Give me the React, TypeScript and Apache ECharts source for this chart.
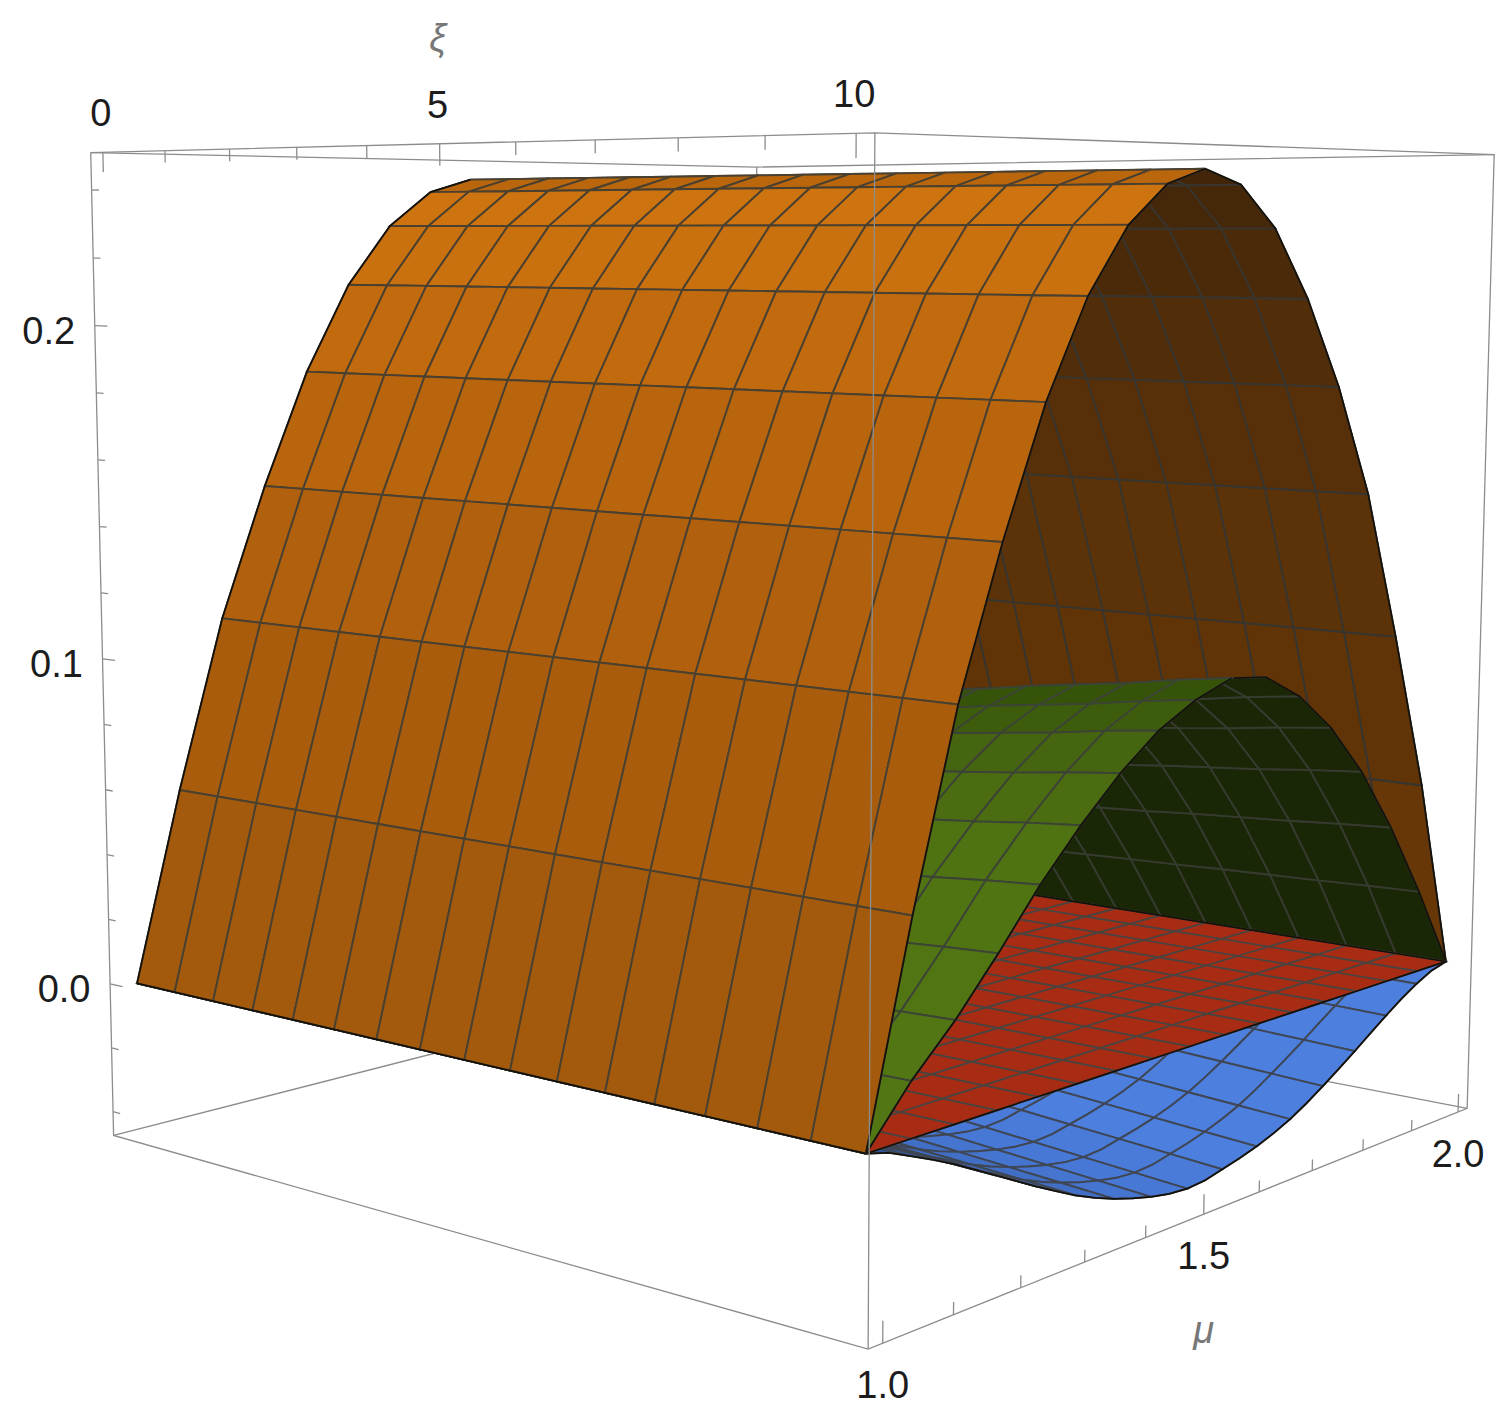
import React, { useEffect, useRef } from "react";
import * as echarts from "echarts";

const W = 1510;
const H = 1425;

// ---- data ----
const xiStations = [0, 0.625, 1.25, 1.875, 2.5, 3.125, 3.75, 4.375, 5, 5.625, 6.25, 6.875, 7.5, 8.125, 8.75, 9.375, 10];
const muStations = [1, 1.0625, 1.125, 1.1875, 1.25, 1.3125, 1.375, 1.4375, 1.5, 1.5625, 1.625, 1.6875, 1.75, 1.8125, 1.875, 1.9375, 2];
const orangeZ = [0, 0.0575, 0.109, 0.149, 0.184, 0.211, 0.2295, 0.2405, 0.2447, 0.2406, 0.2286, 0.2086, 0.1828, 0.1504, 0.1062, 0.0584, 0];
// green and blue at xi = 10; they shrink towards xi = 0 by the factors below
const greenZ = [0, 0.015, 0.0274, 0.0418, 0.0572, 0.0706, 0.0824, 0.092, 0.0985, 0.1028, 0.1012, 0.0938, 0.0825, 0.0671, 0.0477, 0.0251, 0];
const greenAlongXi = [0.66, 0.685, 0.705, 0.725, 0.745, 0.765, 0.785, 0.805, 0.825, 0.845, 0.87, 0.89, 0.915, 0.935, 0.955, 0.98, 1];
const redZ = [0, 0, 0, 0, 0, 0, 0, 0, 0, 0, 0, 0, 0, 0, 0, 0, 0];
const flatAlongXi = [1, 1, 1, 1, 1, 1, 1, 1, 1, 1, 1, 1, 1, 1, 1, 1, 1];
// blue is smooth in the picture: two values per mesh row
const blueZ = [
  0, -0.0017, -0.0045, -0.0074, -0.0105, -0.014, -0.0175, -0.021, -0.0245, -0.0278, -0.031, -0.0337, -0.036, -0.0379, -0.0395, -0.0407,
  -0.0412, -0.0408, -0.0395, -0.0382, -0.0366, -0.0346, -0.0322, -0.0292, -0.0258, -0.0222, -0.0185, -0.0146, -0.0108, -0.0072, -0.004, -0.0014, 0,
];
const blueAlongXi = [0.56, 0.58, 0.6, 0.62, 0.65, 0.68, 0.71, 0.74, 0.77, 0.8, 0.83, 0.855, 0.88, 0.91, 0.94, 0.97, 1];

const xiMajor = [0, 5, 10];
const xiMinor = [1, 2, 3, 4, 6, 7, 8, 9];
const muMajor = [1, 1.5, 2];
const muMinor = [1.1, 1.2, 1.3, 1.4, 1.6, 1.7, 1.8, 1.9];
const zMajor = [0, 0.1, 0.2];
const zMinor = [-0.04, -0.02, 0.02, 0.04, 0.06, 0.08, 0.12, 0.14, 0.16, 0.18, 0.22, 0.24];

const xiLabels = ["0", "5", "10"];
const muLabels = ["1.0", "1.5", "2.0"];
const zLabels = ["0.0", "0.1", "0.2"];

// colour bands over mu (one per cell row)
const orangeRamp = ["#a35a0c", "#a95d0c", "#b1610d", "#b9650d", "#c16a0e", "#c9700f", "#cd7410", "#b9660d"];
const brownRamp = ["#43260a", "#45270a", "#4b2a09", "#512d09", "#572f08", "#5c3208", "#613408", "#673708"];
const greenRamp = ["#537614", "#537614", "#527514", "#517413", "#4f7212", "#4b6c11", "#456510", "#3d5d0d", "#355409"];
const darkGreenRamp = ["#1a2606", "#1a2606", "#1a2606", "#1a2606", "#1a2706", "#1a2706", "#1a2706", "#1a2706"];
const blueRamp = ["#2f5599", "#3259a2", "#365fad", "#3a66b6", "#3e6cc0", "#426fc6", "#4675cf", "#4878d5",
  "#4a7bd9", "#4c7fde", "#4c7fde", "#4c7fde", "#4c7fde", "#4c7fde", "#4c7fde", "#4c7fde"];
const redFill = "#a82c14";

// ---- view: box ranges and where the box corners land on the page ----
const xiRange = [-0.2, 10.2];
const muRange = [0.98, 2.02];
const zRange = [-0.0475, 0.251];
const boxCorners: number[][] = [
  [0, 0, 0, 115, 1135], [1, 0, 0, 871, 1350], [1, 1, 0, 1468, 1107], [0, 1, 0, 752, 972],
  [0, 0, 1, 90, 152], [1, 0, 1, 871, 133], [1, 1, 1, 1494, 155], [0, 1, 1, 760, 167],
];

function solveCamera(): number[] {
  const n = 11;
  const A: number[][] = Array.from({ length: n }, () => new Array(n + 1).fill(0));
  const add = (r: number[], t: number) => {
    for (let i = 0; i < n; i++) {
      for (let j = 0; j < n; j++) A[i][j] += r[i] * r[j];
      A[i][n] += r[i] * t;
    }
  };
  boxCorners.forEach(([X, Y, Z, u, v]) => {
    add([X, Y, Z, 1, 0, 0, 0, 0, -u * X, -u * Y, -u * Z], u);
    add([0, 0, 0, 0, X, Y, Z, 1, -v * X, -v * Y, -v * Z], v);
  });
  for (let c = 0; c < n; c++) {
    let p = c;
    for (let r = c + 1; r < n; r++) if (Math.abs(A[r][c]) > Math.abs(A[p][c])) p = r;
    [A[c], A[p]] = [A[p], A[c]];
    for (let r = 0; r < n; r++) {
      if (r === c) continue;
      const f = A[r][c] / A[c][c];
      for (let k = c; k <= n; k++) A[r][k] -= f * A[c][k];
    }
  }
  return A.map((row, i) => row[n] / row[i]);
}
const cam = solveCamera();

function project(xi: number, mu: number, z: number): number[] {
  const X = (xi - xiRange[0]) / (xiRange[1] - xiRange[0]);
  const Y = (mu - muRange[0]) / (muRange[1] - muRange[0]);
  const Z = (z - zRange[0]) / (zRange[1] - zRange[0]);
  const d = cam[8] * X + cam[9] * Y + cam[10] * Z + 1;
  return [
    (cam[0] * X + cam[1] * Y + cam[2] * Z + cam[3]) / d,
    (cam[4] * X + cam[5] * Y + cam[6] * Z + cam[7]) / d,
  ];
}

const LINE_BOX = "#8c8c8c";
const baseSeries = { type: "custom", coordinateSystem: "cartesian2d", clip: false, silent: true, animation: false };

function surfaceSeries(profile: number[], along: number[], jFrom: number, jTo: number, ramp: (j: number) => string, mesh: string, width = 1.9) {
  const data: number[][] = [];
  for (let i = 0; i < xiStations.length - 1; i++) {
    for (let j = jTo - 1; j >= jFrom; j--) data.push([i, j]);
  }
  return {
    ...baseSeries,
    data,
    renderItem: (_: any, api: any) => {
      const i = api.value(0);
      const j = api.value(1);
      const fine = profile.length > muStations.length;
      const muMid = (muStations[j] + muStations[j + 1]) / 2;
      const a = xiStations[i];
      const b = xiStations[i + 1];
      const sa = along[i];
      const sb = along[i + 1];
      const raw = fine
        ? [
            [a, muStations[j], profile[2 * j] * sa], [b, muStations[j], profile[2 * j] * sb],
            [b, muMid, profile[2 * j + 1] * sb], [b, muStations[j + 1], profile[2 * j + 2] * sb],
            [a, muStations[j + 1], profile[2 * j + 2] * sa], [a, muMid, profile[2 * j + 1] * sa],
          ]
        : [
            [a, muStations[j], profile[j] * sa], [b, muStations[j], profile[j] * sb],
            [b, muStations[j + 1], profile[j + 1] * sb], [a, muStations[j + 1], profile[j + 1] * sa],
          ];
      const pts = raw.map((p) => api.coord(project(p[0], p[1], p[2])));
      return { type: "polygon", shape: { points: pts }, style: { fill: ramp(j), stroke: mesh, lineWidth: width } };
    },
  };
}

function polylineSeries(lines: number[][][], stroke: string, width: number) {
  return {
    ...baseSeries,
    data: lines.map((_, k) => [k, 0]),
    renderItem: (_: any, api: any) => {
      const pts = lines[api.value(0)].map(([a, b, c]) => api.coord(project(a, b, c)));
      return { type: "polyline", shape: { points: pts }, style: { fill: "none", stroke, lineWidth: width } };
    },
  };
}

const edgeAtXi = (xi: number, profile: number[], from: number, to: number) =>
  muStations.slice(from, to + 1).map((m, k) => [xi, m, profile[from + k]]);

function fineEdge(xi: number, profile: number[]) {
  const out: number[][] = [];
  muStations.forEach((m, j) => {
    out.push([xi, m, profile[2 * j]]);
    if (j < muStations.length - 1) out.push([xi, (m + muStations[j + 1]) / 2, profile[2 * j + 1]]);
  });
  return out;
}

function edgeSeries(lines: number[][][]) {
  return polylineSeries(lines, "#14100a", 1.7);
}

function labelSeries(items: { text: string; at: number[]; dx: number; dy: number; color?: string; italic?: boolean }[]) {
  return {
    ...baseSeries,
    data: items.map((_, k) => [k, 0]),
    renderItem: (_: any, api: any) => {
      const it = items[api.value(0)];
      const p = api.coord(project(it.at[0], it.at[1], it.at[2]));
      return {
        type: "text",
        x: p[0] + it.dx,
        y: p[1] + it.dy,
        style: {
          text: it.text,
          fontFamily: "Liberation Sans",
          fontSize: 38,
          fontStyle: it.italic ? "italic" : "normal",
          fill: it.color || "#1c1c1c",
          align: "center",
          verticalAlign: "middle",
        },
      };
    },
  };
}

function buildOption() {
  const [x0, x1] = xiRange;
  const [m0, m1] = muRange;
  const [z0, z1] = zRange;
  const last = muStations.length - 1;
  const ridge = 8;
  const greenRidge = 9;

  const boxBack = [
    [[x0, m0, z0], [x0, m1, z0], [x1, m1, z0]],
    [[x0, m1, z0], [x0, m1, z1]],
    [[x0, m0, z1], [x0, m1, z1], [x1, m1, z1]],
  ];
  const boxFront = [
    [[x0, m0, z1], [x1, m0, z1], [x1, m1, z1], [x1, m1, z0], [x1, m0, z0], [x0, m0, z0], [x0, m0, z1]],
    [[x1, m0, z1], [x1, m0, z0]],
  ];

  const ticks: number[][][] = [];
  xiMajor.forEach((v) => ticks.push([[v, m0, z1], [v, m0, z1 - 0.0058]]));
  xiMinor.forEach((v) => ticks.push([[v, m0, z1], [v, m0, z1 - 0.0034]]));
  muMajor.forEach((v) => ticks.push([[x1, v, z0], [x1, v, z0 + 0.0058]]));
  muMinor.forEach((v) => ticks.push([[x1, v, z0], [x1, v, z0 + 0.0034]]));
  zMajor.forEach((v) => ticks.push([[x0, m0, v], [x0 + 0.21, m0, v]]));
  zMinor.forEach((v) => ticks.push([[x0, m0, v], [x0 + 0.12, m0, v]]));

  const labels = [
    ...xiMajor.map((v, k) => ({ text: xiLabels[k], at: [v, m0, z1], dx: -2, dy: -39 })),
    ...muMajor.map((v, k) => ({ text: muLabels[k], at: [x1, v, z0], dx: 0, dy: 42 })),
    ...zMajor.map((v, k) => ({ text: zLabels[k], at: [x0, m0, v], dx: -46, dy: 5 })),
    { text: "ξ", at: [5, m0, z1], dx: -2, dy: -106, color: "#777777", italic: true },
    { text: "μ", at: [x1, 1.5, z0], dx: 0, dy: 116, color: "#777777", italic: true },
  ];

  const band = (r: string[], base: number) => (j: number) => r[Math.abs(j - base)] || r[r.length - 1];

  return {
    animation: false,
    backgroundColor: "#ffffff",
    grid: { left: 0, right: 0, top: 0, bottom: 0 },
    xAxis: { type: "value", min: 0, max: W, show: false },
    yAxis: { type: "value", min: 0, max: H, inverse: true, show: false },
    series: [
      polylineSeries(boxBack, LINE_BOX, 1.3),
      surfaceSeries(blueZ, blueAlongXi, 0, 16, (j) => blueRamp[j], "#3f4654"),
      edgeSeries([fineEdge(10, blueZ)]),
      surfaceSeries(orangeZ, flatAlongXi, ridge, 16, band(brownRamp, ridge), "#38352f"),
      edgeSeries([edgeAtXi(10, orangeZ, ridge, last)]),
      surfaceSeries(greenZ, greenAlongXi, greenRidge, 16, band(darkGreenRamp, greenRidge), "#363a2f"),
      edgeSeries([edgeAtXi(10, greenZ, greenRidge, last)]),
      surfaceSeries(redZ, flatAlongXi, 0, 16, () => redFill, "#4a4440", 1.7),
      edgeSeries([edgeAtXi(10, redZ, 0, last), [[0, 2, 0], [10, 2, 0]]]),
      surfaceSeries(greenZ, greenAlongXi, 0, greenRidge, band(greenRamp, 0), "#3c4436"),
      edgeSeries([edgeAtXi(10, greenZ, 0, greenRidge)]),
      surfaceSeries(orangeZ, flatAlongXi, 0, ridge, band(orangeRamp, 0), "#4a4030"),
      edgeSeries([edgeAtXi(10, orangeZ, 0, ridge), edgeAtXi(0, orangeZ, 0, ridge), [[0, 1, 0], [10, 1, 0]]]),
      polylineSeries(boxFront, LINE_BOX, 1.3),
      polylineSeries(ticks, LINE_BOX, 1.3),
      labelSeries(labels),
    ],
  };
}

export default function App() {
  const ref = useRef<HTMLDivElement>(null);
  useEffect(() => {
    const chart = echarts.init(ref.current!, null, { renderer: "svg" });
    chart.setOption(buildOption() as any);
    return () => chart.dispose();
  }, []);
  return <div ref={ref} style={{ position: "absolute", left: 0, top: 0, width: W, height: H }} />;
}
